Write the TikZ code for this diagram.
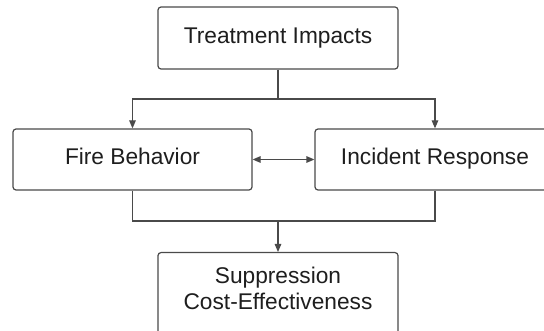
\documentclass[tikz,border=0pt]{standalone}
\usepackage{fontspec}
\setmainfont{Liberation Sans}
\usetikzlibrary{arrows.meta}
\definecolor{linec}{HTML}{4A4A4A}
\definecolor{textc}{HTML}{1E1E1E}
\tikzset{
  box/.style={draw=linec, line width=1.2pt, rounded corners=3pt, fill=white,
    minimum width=240pt, inner sep=0pt, text=textc,
    text height=16.3pt, text depth=5.3pt,
    font=\fontsize{22.7}{26}\selectfont},
  conn/.style={draw=linec, line width=1.2pt},
  tip/.style={-{Triangle[length=8pt,width=6.5pt]}},
  dtip/.style={{Triangle[length=8pt,width=6.5pt]}-{Triangle[length=8pt,width=6.5pt]}}
}
\begin{document}
\begin{tikzpicture}[x=1pt,y=-1pt]
\useasboundingbox (0,0) rectangle (544,331);
\clip (0,0) rectangle (544,331);
\node[box, minimum height=62pt] (top) at (278,38) {Treatment Impacts};
\node[box, minimum width=239pt, minimum height=61pt] (fire) at (132.5,159.5) {Fire Behavior};
\node[box, minimum height=61pt] (inc) at (435,159.5) {Incident Response};
\node[box, minimum height=95pt, anchor=north] (suppbox) at (278,252) {};
\node[font=\fontsize{22.7}{26}\selectfont, text=textc, align=center, inner sep=0pt] (supp) at (278,288) {Suppression\\Cost-Effectiveness};
\coordinate (j1) at (278,99);
\coordinate (j2) at (278,221);
\draw[conn] (top.south) -- (j1);
\draw[conn, tip] (j1) -| (fire.north);
\draw[conn, tip] (j1) -| (inc.north);
\draw[conn, dtip] (fire.east) -- (inc.west);
\draw[conn] (fire.south) |- (j2);
\draw[conn] (inc.south) |- (j2);
\draw[conn, tip] (j2) -- (suppbox.north);
\end{tikzpicture}
\end{document}
